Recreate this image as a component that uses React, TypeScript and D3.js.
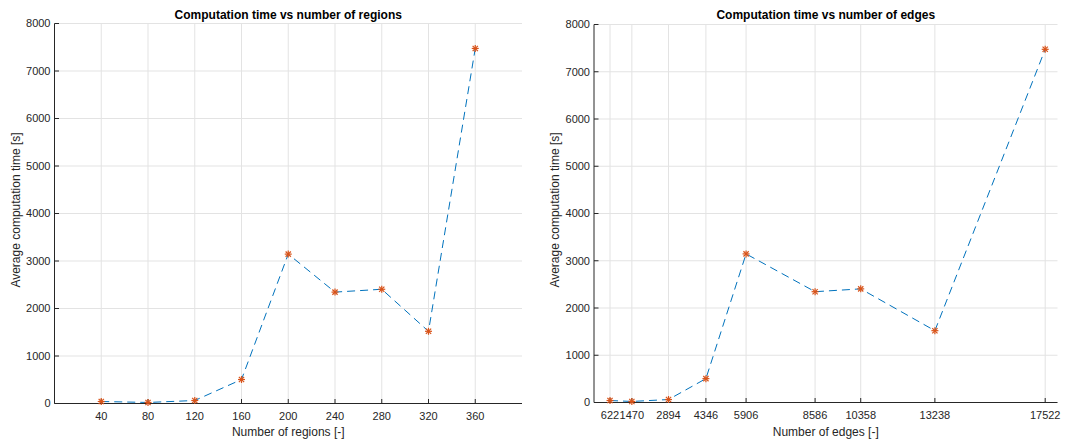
import React from "react"
import * as d3 from "d3"

// values
const regions = [40, 80, 120, 160, 200, 240, 280, 320, 360]
const edges = [622, 1470, 2894, 4346, 5906, 8586, 10358, 13238, 17522]
const timeSec = [42, 22, 63, 505, 3145, 2345, 2405, 1520, 7475]
const yTicks = [0, 1000, 2000, 3000, 4000, 5000, 6000, 7000, 8000]

const W = 1080
const H = 443
const axisColor = "#262626"
const gridColor = "#e3e3e3"
const lineColor = "#0072BD"
const markColor = "#D95319"
const font = "'Liberation Sans', Arial, Helvetica, sans-serif"

type PanelProps = {
  xs: number[]
  ys: number[]
  xDomain: [number, number]
  xTicks: number[]
  box: { left: number; right: number; top: number; bottom: number }
  title: string
  xLabel: string
}

function Panel({ xs, ys, xDomain, xTicks, box, title, xLabel }: PanelProps) {
  const x = d3.scaleLinear().domain(xDomain).range([box.left, box.right])
  const y = d3.scaleLinear().domain([0, 8000]).range([box.bottom, box.top])
  const pts: [number, number][] = xs.map((v, i) => [x(v), y(ys[i])])
  const line = d3.line()(pts) || ""
  const tick = 4.5
  const r = 3.5

  return (
    <g>
      {/* grid */}
      {xTicks.map(t => (
        <line key={"gx" + t} x1={x(t)} x2={x(t)} y1={box.top} y2={box.bottom} stroke={gridColor} strokeWidth={1} />
      ))}
      {yTicks.map(t => (
        <line key={"gy" + t} x1={box.left} x2={box.right} y1={y(t)} y2={y(t)} stroke={gridColor} strokeWidth={1} />
      ))}
      {/* axes */}
      <line x1={box.left} x2={box.left} y1={box.top} y2={box.bottom} stroke={axisColor} strokeWidth={1} />
      <line x1={box.left} x2={box.right} y1={box.bottom} y2={box.bottom} stroke={axisColor} strokeWidth={1} />
      {yTicks.map(t => (
        <g key={"ty" + t}>
          <line x1={box.left} x2={box.left + tick} y1={y(t)} y2={y(t)} stroke={axisColor} />
          <text x={box.left - 4} y={y(t)} dy="0.35em" textAnchor="end" fontSize={11} fill={axisColor} fontFamily={font}>
            {t}
          </text>
        </g>
      ))}
      {xTicks.map(t => (
        <g key={"tx" + t}>
          <line x1={x(t)} x2={x(t)} y1={box.bottom} y2={box.bottom - tick} stroke={axisColor} />
          <text x={x(t)} y={box.bottom + 12.5} dy="0.35em" textAnchor="middle" fontSize={11} fill={axisColor} fontFamily={font}>
            {t}
          </text>
        </g>
      ))}
      {/* series */}
      <path d={line} fill="none" stroke={lineColor} strokeWidth={1} strokeDasharray="8,5" />
      {pts.map(([px, py], i) => (
        <g key={"m" + i} stroke={markColor} strokeWidth={1.2}>
          <line x1={px - r} x2={px + r} y1={py} y2={py} />
          <line x1={px} x2={px} y1={py - r} y2={py + r} />
          <line x1={px - r * 0.75} x2={px + r * 0.75} y1={py - r * 0.75} y2={py + r * 0.75} />
          <line x1={px - r * 0.75} x2={px + r * 0.75} y1={py + r * 0.75} y2={py - r * 0.75} />
        </g>
      ))}
      {/* labels */}
      <text x={(box.left + box.right) / 2} y={15} dy="0.35em" textAnchor="middle" fontSize={12} fontWeight="bold" fill="#000" fontFamily={font}>
        {title}
      </text>
      <text x={(box.left + box.right) / 2} y={432} dy="0.35em" textAnchor="middle" fontSize={12} fill={axisColor} fontFamily={font}>
        {xLabel}
      </text>
      <text
        transform={`translate(${box.left - 39},210) rotate(-90)`}
        dy="0.35em"
        textAnchor="middle"
        fontSize={12}
        fill={axisColor}
        fontFamily={font}
      >
        Average computation time [s]
      </text>
    </g>
  )
}

export default function App() {
  return (
    <svg width={W} height={H} style={{ position: "absolute", left: 0, top: 0, background: "#fff" }}>
      <rect width={W} height={H} fill="#fff" />
      <Panel
        xs={regions}
        ys={timeSec}
        xDomain={[0, 400]}
        xTicks={regions}
        box={{ left: 54.5, right: 522, top: 23.5, bottom: 403.5 }}
        title="Computation time vs number of regions"
        xLabel="Number of regions [-]"
      />
      <Panel
        xs={edges}
        ys={timeSec}
        xDomain={[0, 18000]}
        xTicks={edges}
        box={{ left: 594, right: 1057.5, top: 24.5, bottom: 402.5 }}
        title="Computation time vs number of edges"
        xLabel="Number of edges [-]"
      />
    </svg>
  )
}
